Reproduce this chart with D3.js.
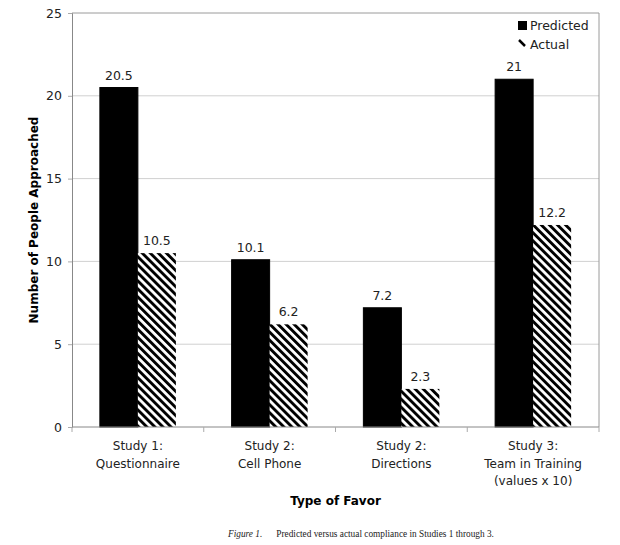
<!doctype html>
<html>

<head>
    <meta charset="UTF-8">
    <title>Predicted vs Actual</title>
    <script src="https://d3js.org/d3.v7.min.js"></script>
    <style>
        body { margin: 0; background: #fff; }
        text { font-family: "DejaVu Sans", Verdana, sans-serif; }
    </style>
</head>

<body>

    <script>
        var categories = [
            ["Study 1:", "Questionnaire"],
            ["Study 2:", "Cell Phone"],
            ["Study 2:", "Directions"],
            ["Study 3:", "Team in Training", "(values x 10)"]
        ];
        var predicted = [20.5, 10.1, 7.2, 21];
        var actual = [10.5, 6.2, 2.3, 12.2];
        var seriesNames = ["Predicted", "Actual"];
        var yTicks = [0, 5, 10, 15, 20, 25];

        var w = 620;
        var h = 545;
        // plot area edges (note: "top" is reserved on window)
        var pLeft = 72, pRight = 599, pTop = 13, pBottom = 427;

        var svg = d3.select("body").append("svg")
            .attr("width", w)
            .attr("height", h);

        // hatch pattern
        var defs = svg.append("defs");
        var pat = defs.append("pattern")
            .attr("id", "hatch")
            .attr("patternUnits", "userSpaceOnUse")
            .attr("width", 5.7)
            .attr("height", 5.7)
            .attr("patternTransform", "rotate(-45)");
        pat.append("rect").attr("width", 5.7).attr("height", 5.7).attr("fill", "#fff");
        pat.append("rect").attr("width", 2.9).attr("height", 5.7).attr("fill", "#000");

        var x = d3.scaleBand()
            .domain(d3.range(categories.length))
            .range([pLeft, pRight]);

        var y = d3.scaleLinear()
            .domain([0, 25])
            .range([pBottom, pTop]);

        var barW = 38;

        // gridlines
        svg.append("g").selectAll("line")
            .data(yTicks.filter(function (d) { return d > 0 && d < 25; }))
            .enter().append("line")
            .attr("x1", pLeft).attr("x2", pRight)
            .attr("y1", function (d) { return y(d); })
            .attr("y2", function (d) { return y(d); })
            .attr("stroke", "#d0d0d0")
            .attr("stroke-width", 1);

        // plot border (top, right)
        svg.append("path")
            .attr("d", "M" + pLeft + "," + pTop + "H" + pRight + "V" + pBottom)
            .attr("fill", "none")
            .attr("stroke", "#9a9a9a")
            .attr("stroke-width", 1);

        // predicted bars
        svg.append("g").selectAll("rect")
            .data(predicted)
            .enter().append("rect")
            .attr("x", function (d, i) { return x(i) + x.bandwidth() / 2 - barW; })
            .attr("y", function (d) { return y(d); })
            .attr("width", barW)
            .attr("height", function (d) { return y(0) - y(d); })
            .attr("fill", "#000")
            .attr("stroke", "#000");

        // actual bars
        svg.append("g").selectAll("rect")
            .data(actual)
            .enter().append("rect")
            .attr("x", function (d, i) { return x(i) + x.bandwidth() / 2; })
            .attr("y", function (d) { return y(d); })
            .attr("width", barW)
            .attr("height", function (d) { return y(0) - y(d); })
            .attr("fill", "url(#hatch)");

        // value labels
        function labels(dataSet, dx) {
            svg.append("g").selectAll("text")
                .data(dataSet)
                .enter().append("text")
                .attr("x", function (d, i) { return x(i) + x.bandwidth() / 2 + dx; })
                .attr("y", function (d) { return y(d) - 8; })
                .attr("text-anchor", "middle")
                .attr("font-size", 12.5)
                .attr("fill", "#222")
                .text(function (d) { return d; });
        }
        labels(predicted, -barW / 2);
        labels(actual, barW / 2);

        // y axis
        var yAxis = svg.append("g")
            .attr("transform", "translate(" + pLeft + ",0)")
            .call(d3.axisLeft(y).tickValues(yTicks).tickSize(4).tickPadding(6));
        yAxis.select(".domain").attr("stroke", "#888");
        yAxis.selectAll(".tick line").attr("stroke", "#aaa");
        yAxis.selectAll(".tick text")
            .attr("font-family", "DejaVu Sans")
            .attr("font-size", 12.5)
            .attr("fill", "#222");

        // x axis line + ticks at band edges
        svg.append("line")
            .attr("x1", pLeft).attr("x2", pRight)
            .attr("y1", pBottom).attr("y2", pBottom)
            .attr("stroke", "#888");
        svg.append("g").selectAll("line")
            .data(d3.range(categories.length + 1))
            .enter().append("line")
            .attr("x1", function (d) { return pLeft + d * x.step(); })
            .attr("x2", function (d) { return pLeft + d * x.step(); })
            .attr("y1", pBottom).attr("y2", pBottom + 5)
            .attr("stroke", "#aaa");

        // category labels
        var cat = svg.append("g").selectAll("text")
            .data(categories)
            .enter().append("text")
            .attr("text-anchor", "middle")
            .attr("font-size", 12)
            .attr("fill", "#222");
        cat.selectAll("tspan")
            .data(function (d, i) { return d.map(function (s) { return { s: s, i: i }; }); })
            .enter().append("tspan")
            .attr("x", function (d) { return x(d.i) + x.bandwidth() / 2; })
            .attr("y", function (d, j) { return 450 + j * 17.5; })
            .text(function (d) { return d.s; });

        // axis titles
        svg.append("text")
            .attr("x", (pLeft + pRight) / 2)
            .attr("y", 505)
            .attr("text-anchor", "middle")
            .attr("font-size", 12)
            .attr("font-weight", "bold")
            .text("Type of Favor");

        svg.append("text")
            .attr("transform", "translate(38,220) rotate(-90)")
            .attr("text-anchor", "middle")
            .attr("font-size", 12)
            .attr("font-weight", "bold")
            .text("Number of People Approached");

        // legend
        var lg = svg.append("g");
        lg.append("rect")
            .attr("x", 518).attr("y", 21)
            .attr("width", 9).attr("height", 9)
            .attr("fill", "#000");
        lg.append("line")
            .attr("x1", 519).attr("y1", 40)
            .attr("x2", 525).attr("y2", 46)
            .attr("stroke", "#000")
            .attr("stroke-width", 2.5);
        lg.selectAll("text")
            .data(seriesNames)
            .enter().append("text")
            .attr("x", 530)
            .attr("y", function (d, i) { return 30 + i * 19; })
            .attr("font-size", 12.5)
            .attr("fill", "#222")
            .text(function (d) { return d; });

        // caption
        var cap = svg.append("text")
            .attr("x", 228)
            .attr("y", 537)
            .attr("font-size", 9.3)
            .attr("fill", "#222")
            .style("font-family", "'Liberation Serif', 'Times New Roman', serif");
        cap.append("tspan").attr("font-style", "italic").text("Figure 1.");
        cap.append("tspan").attr("dx", 14).text("Predicted versus actual compliance in Studies 1 through 3.");
    </script>


</body>

</html>
